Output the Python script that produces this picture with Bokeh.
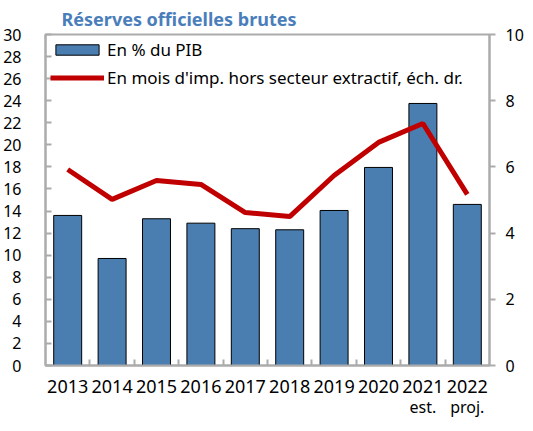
from bokeh.plotting import figure
from bokeh.models import (Range1d, LinearAxis, FixedTicker, Legend, LegendItem,
                          ColumnDataSource)
from bokeh.embed import file_html
from bokeh.resources import INLINE

# ---- data ----
years = ["2013", "2014", "2015", "2016", "2017", "2018", "2019", "2020", "2021", "2022"]
year_notes = ["", "", "", "", "", "", "", "", "est.", "proj."]
reserves_pct_gdp = [13.6, 9.7, 13.3, 12.9, 12.4, 12.3, 14.05, 17.95, 23.75, 14.6]
months_imports = [5.92, 5.02, 5.59, 5.47, 4.62, 4.50, 5.74, 6.74, 7.31, 5.17]
left_ticks = list(range(0, 31, 2))
right_ticks = list(range(0, 11, 2))

title_text = "Réserves officielles brutes"
label_bars = "En % du PIB"
label_line = "En mois d'imp. hors secteur extractif, éch. dr."

BLUE = "#4A7EB0"
RED = "#C00000"
GRAY = "#ABABAB"
FONT = "Noto Sans"

idx = list(range(len(years)))
src = ColumnDataSource(dict(x=idx, bars=reserves_pct_gdp, months=months_imports))

p = figure(frame_width=444, frame_height=331, output_backend="svg", toolbar_location=None,
           x_range=Range1d(-0.5, len(years) - 0.5), y_range=Range1d(0, 30),
           min_border_left=38, min_border_right=35, min_border_top=25,
           min_border_bottom=50)
p.extra_y_ranges = {"right": Range1d(0, 10)}

p.title.text = title_text
p.title.text_font = FONT
p.title.text_font_size = "18px"
p.title.text_font_style = "bold"
p.title.text_color = "#4A7EBB"
p.title.offset = 16
p.title.standoff = 8

p.xgrid.visible = False
p.ygrid.visible = False
p.outline_line_color = GRAY
p.outline_line_width = 2
p.background_fill_color = "white"
p.border_fill_color = "white"

bars = p.vbar(x="x", top="bars", width=0.63, source=src, fill_color=BLUE,
              line_color="black", line_width=1)
line = p.line(x="x", y="months", source=src, line_color=RED, line_width=5,
              y_range_name="right")

# x axis (years)
xa = p.xaxis[0]
xa.ticker = FixedTicker(ticks=idx, minor_ticks=[i + 0.5 for i in idx[:-1]])
xa.major_label_overrides = {i: years[i] for i in idx}
xa.major_tick_in = 0
xa.major_tick_out = 0
xa.minor_tick_in = 6
xa.minor_tick_out = 0
xa.minor_tick_line_color = GRAY
xa.minor_tick_line_width = 2
xa.axis_line_color = GRAY
xa.axis_line_width = 2
xa.major_label_text_font = FONT
xa.major_label_text_font_size = "18px"
xa.major_label_text_color = "black"
xa.major_label_standoff = 14

# second row of x labels (est. / proj.)
note_idx = [i for i in idx if year_notes[i]]
xa2 = LinearAxis(ticker=FixedTicker(ticks=note_idx))
xa2.major_label_overrides = {i: year_notes[i] for i in note_idx}
xa2.axis_line_color = None
xa2.major_tick_line_color = None
xa2.minor_tick_line_color = None
xa2.major_tick_in = 0
xa2.major_tick_out = 0
xa2.major_label_standoff = 0
xa2.major_label_text_font = FONT
xa2.major_label_text_font_size = "16px"
xa2.major_label_text_color = "black"
p.add_layout(xa2, "below")

# left axis
ya = p.yaxis[0]
ya.ticker = FixedTicker(ticks=left_ticks)
ya.major_tick_in = 6
ya.major_tick_out = 0
ya.minor_tick_line_color = None
ya.major_tick_line_color = GRAY
ya.major_tick_line_width = 2
ya.axis_line_color = GRAY
ya.axis_line_width = 2
ya.major_label_text_font = FONT
ya.major_label_text_font_size = "16px"
ya.major_label_text_color = "black"
ya.major_label_standoff = 24

# right axis
ra = LinearAxis(y_range_name="right", ticker=FixedTicker(ticks=right_ticks))
ra.major_tick_in = 0
ra.major_tick_out = 6
ra.minor_tick_line_color = None
ra.major_tick_line_color = GRAY
ra.major_tick_line_width = 2
ra.axis_line_color = GRAY
ra.axis_line_width = 2
ra.major_label_text_font = FONT
ra.major_label_text_font_size = "16px"
ra.major_label_text_color = "black"
ra.major_label_standoff = 10
p.add_layout(ra, "right")

legend = Legend(items=[LegendItem(label=label_bars, renderers=[bars]),
                       LegendItem(label=label_line, renderers=[line])],
                location=(5, 276), margin=0, padding=0, spacing=5,
                glyph_width=54, glyph_height=13, label_height=20,
                label_standoff=3, label_text_font=FONT,
                label_text_font_size="17px", label_text_color="black",
                background_fill_alpha=0, border_line_color=None)
p.add_layout(legend, "center")

open("out.html", "w").write(file_html(p, INLINE))
